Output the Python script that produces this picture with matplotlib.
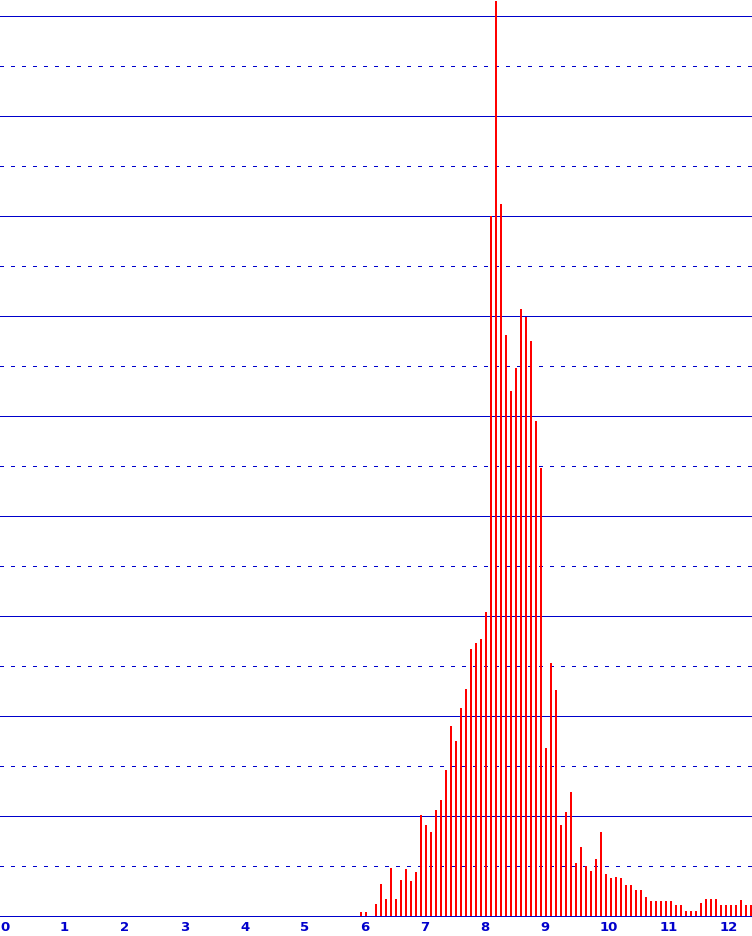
import matplotlib
matplotlib.use('Agg')
import matplotlib.pyplot as plt
import numpy as np

# istogramma: prima barra e passo (1/12 di unità)
primo_bin = 5.967
passo_bin = 1 / 12

altezze = [
    4, 4, 0, 12, 32, 17, 48, 17, 36, 47, 35, 44,
    101, 91, 84, 106, 116, 146, 190, 175, 208, 227, 267, 273, 277, 304,
    700, 915, 712, 581, 525, 548, 607, 599, 575, 495, 448, 168, 253, 226,
    91, 104, 124, 53, 69, 50, 45, 57, 84, 42, 38, 39, 38, 31,
    31, 26, 26, 19, 15, 15, 15, 15, 15, 11, 11, 5, 5, 5,
    13, 17, 17, 17, 11, 11, 11, 11, 16, 11, 11,
]

tick_x = list(range(0, 13))
tick_labels = [str(v) for v in tick_x]

griglia_piena = [0, 100, 200, 300, 400, 500, 600, 700, 800, 900]
griglia_tratteggiata = [50, 150, 250, 350, 450, 550, 650, 750, 850]

blu = '#0000cc'
rosso = '#ff0000'

W, H = 752, 937
fig = plt.figure(figsize=(W / 100, H / 100), dpi=100)
ax = fig.add_axes([0, 20 / H, 1, 917 / H])

x_bar = primo_bin + passo_bin * np.arange(len(altezze))

# 1 px = 0.72 pt
for y in griglia_piena:
    ax.axhline(y, color=blu, lw=0.72, antialiased=False, clip_on=False, zorder=1)
for y in griglia_tratteggiata:
    ax.axhline(y, color=blu, lw=0.72, ls=(0, (3, 7)), antialiased=False, zorder=1)

# barre larghe 2 px
ax.vlines(x_bar, 0, altezze, colors=rosso, lw=1.44, antialiased=False, zorder=2)

ax.set_xlim(-3 / 60, 749 / 60)
ax.set_ylim(0, 917)
ax.axis('off')

for v, lab in zip(tick_x, tick_labels):
    ax.text(v - 3 / 60, -4 / 917, lab, transform=ax.get_xaxis_transform(),
            ha='left', va='top', color=blu, fontsize=9.5, fontweight='bold',
            family='DejaVu Sans', clip_on=False)

fig.savefig('out.png', dpi=100, facecolor='white')
